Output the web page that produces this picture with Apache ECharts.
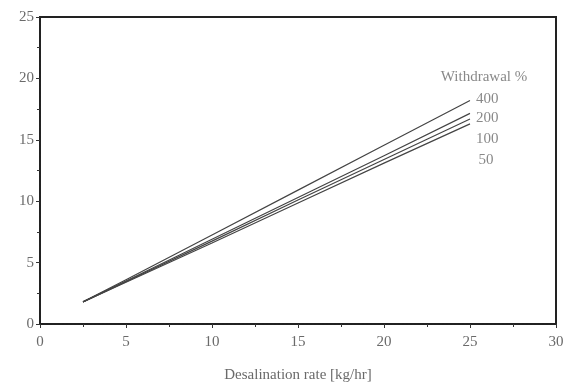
<!DOCTYPE html>
<html>
<head>
<meta charset="utf-8">
<script src="https://cdn.jsdelivr.net/npm/echarts@6/dist/echarts.min.js"></script>
<style>
  html, body { margin: 0; padding: 0; background: #fff; }
  #chart { width: 569px; height: 388px; }
</style>
</head>
<body>
<div id="chart"></div>
<script>
const rates = [2.5, 5, 10, 15, 20, 25];

const w400 = [1.8, 3.6, 7.25, 10.9, 14.55, 18.2];
const w200 = [1.8, 3.5, 6.9, 10.3, 13.7, 17.15];
const w100 = [1.8, 3.45, 6.75, 10.1, 13.4, 16.7];
const w50 = [1.8, 3.4, 6.6, 9.85, 13.1, 16.3];

const seriesNames = ['400', '200', '100', '50'];
const labelPos = [[25.35, 18.3], [25.35, 16.75], [25.35, 15.05], [25.5, 13.35]];
const legendTitle = 'Withdrawal %';
const legendTitlePos = [23.3, 20.1];

const chart = echarts.init(document.getElementById('chart'));

const font = 'Liberation Serif';
const textColor = '#6a6a6a';
const fontSize = 15;

const lineSeries = [w400, w200, w100, w50].map((vals, i) => ({
    name: seriesNames[i],
    type: 'line',
    showSymbol: false,
    symbol: 'none',
    lineStyle: { color: '#444', width: 1.2 },
    data: rates.map((r, j) => [r, vals[j]]),
    silent: true,
}));

const textLabel = {
    show: true,
    position: 'right',
    distance: 0,
    formatter: (p) => p.name,
    fontFamily: font,
    fontSize: fontSize,
    color: textColor,
};

const labelSeries = {
    type: 'scatter',
    symbolSize: 0,
    silent: true,
    data: seriesNames.map((n, i) => ({ value: labelPos[i], name: n })),
    label: textLabel,
};

const titleSeries = {
    type: 'scatter',
    symbolSize: 0,
    silent: true,
    data: [{ value: legendTitlePos, name: legendTitle }],
    label: textLabel,
};

const axisCommon = {
    axisLine: { show: true, lineStyle: { color: '#222', width: 2, type: 'dotted' } },
    axisTick: { show: true, inside: false, length: 4, lineStyle: { color: '#333' } },
    minorTick: { show: true, splitNumber: 2, length: 3, lineStyle: { color: '#333' } },
    axisLabel: { fontFamily: font, fontSize: fontSize, color: textColor },
    splitLine: { show: false },
};

chart.setOption({
    animation: false,
    grid: { left: 40, right: 13, top: 17, bottom: 62, show: true, borderColor: '#222', borderWidth: 2 },
    xAxis: Object.assign({}, axisCommon, {
        type: 'value',
        min: 0, max: 30, interval: 5,
        name: 'Desalination rate [kg/hr]',
        nameLocation: 'middle',
        nameGap: 44,
        nameTextStyle: { fontFamily: font, fontSize: fontSize, color: textColor },
        axisLabel: Object.assign({}, axisCommon.axisLabel, { margin: 11 }),
    }),
    yAxis: Object.assign({}, axisCommon, {
        type: 'value',
        min: 0, max: 25, interval: 5,
        axisLabel: Object.assign({}, axisCommon.axisLabel, { margin: 6 }),
    }),
    series: lineSeries.concat([labelSeries, titleSeries]),
});
</script>
</body>
</html>
